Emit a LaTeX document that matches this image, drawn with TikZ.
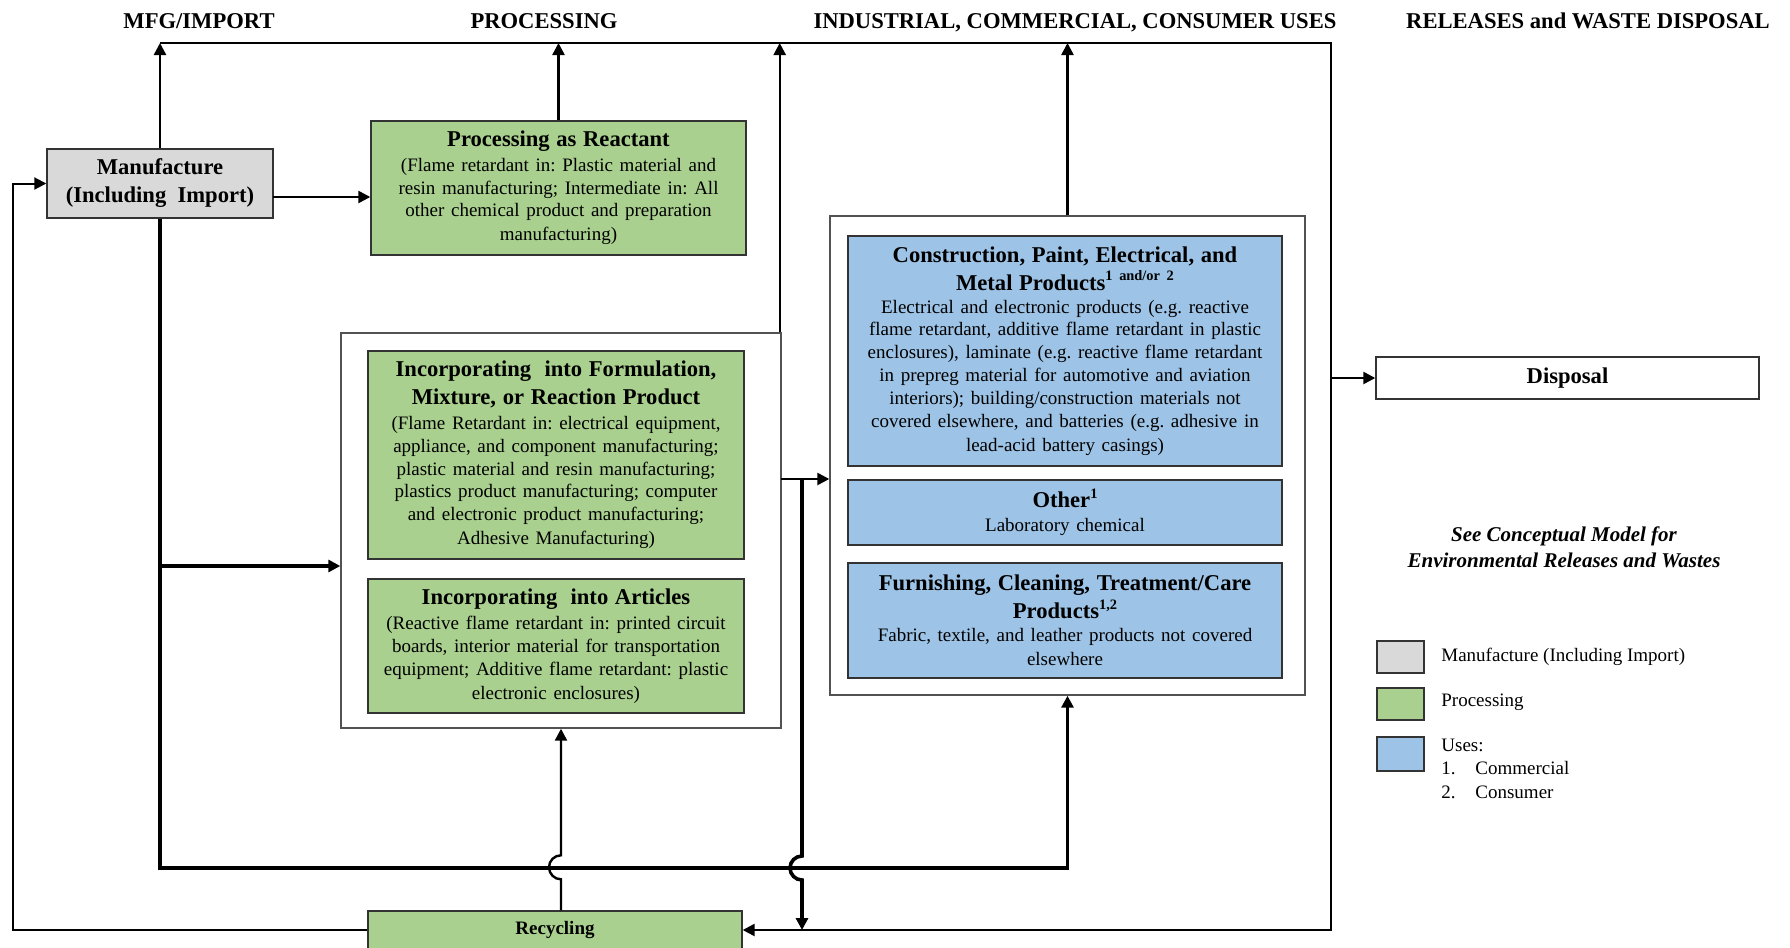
\documentclass[tikz,border=0pt]{standalone}
\usepackage{fontspec}
\setmainfont{Liberation Serif}
\usetikzlibrary{arrows.meta,calc}

\definecolor{mfggray}{HTML}{D9D9D9}
\definecolor{procgreen}{HTML}{A9D08E}
\definecolor{useblue}{HTML}{9DC3E6}
\definecolor{edge}{HTML}{333333}

\setlength{\parindent}{0pt}
\setlength{\parskip}{0pt}
\frenchspacing
\newcommand\boxtitle{\fontsize{11.3}{14}\selectfont\bfseries}
\newcommand\boxbody{\fontsize{9.5}{11.4}\selectfont\mdseries}
\newcommand\supnote[1]{\raisebox{0.42em}{\fontsize{7.2}{7.2}\selectfont #1}}

\begin{document}
\begin{tikzpicture}[x=0.5pt,y=-0.5pt,
  span/.style n args={4}{minimum width={(#3-#1)*0.5pt}, minimum height={(#4-#2)*0.5pt},
    at={({(#1+#3)/2},{(#2+#4)/2})}},
  box/.style={draw=edge, line width=0.7pt, inner sep=0pt, align=center},
  mfgbox/.style={box, fill=mfggray},
  procbox/.style={box, fill=procgreen},
  usebox/.style={box, fill=useblue},
  groupbox/.style={box, fill=white, draw=edge!85},
  tip/.style={-{Triangle[length=6pt,width=6pt]}},
  flow/.style={line width=1.2pt, line join=miter},
  heavy/.style={line width=1.8pt, line join=miter},
  lightflow/.style={line width=1pt, line join=miter},
  header/.style={font=\fontsize{11.3}{14}\selectfont\bfseries, anchor=base},
  legtext/.style={font=\boxbody, anchor=west, inner sep=0pt},
]
\clip (0,0) rectangle (1790,948);
\fill[white] (0,0) rectangle (1790,948);

% column headers
\node[header] (hmfg) at (199,28) {MFG/IMPORT};
\node[header] (hproc) at (544,28) {PROCESSING};
\node[header] (huse) at (1075,28) {INDUSTRIAL, COMMERCIAL, CONSUMER USES};
\node[header] (hrel) at (1588,28) {RELEASES and WASTE DISPOSAL};

% grouping frames
\node[groupbox, span={341}{333}{781}{728}] (incout) {};
\node[groupbox, span={830}{216}{1305}{695}] (useout) {};

% manufacture
\node[mfgbox, font=\boxtitle, span={47}{149}{273}{218}] (mfg) {Manufacture\\(Including\ \ Import)};

% processing
\node[procbox, text width=183pt, span={371}{121}{746}{255}] (par)
  {\boxtitle Processing as Reactant\par\vspace{1pt}
   \boxbody (Flame retardant in: Plastic material and\\
   resin manufacturing; Intermediate in: All\\
   other chemical product and preparation\\
   manufacturing)};

\node[procbox, text width=184pt, span={368}{351}{744}{559}] (form)
  {\boxtitle Incorporating\ \ into Formulation,\\Mixture, or Reaction Product\par\vspace{1pt}
   \boxbody (Flame Retardant in: electrical equipment,\\
   appliance, and component manufacturing;\\
   plastic material and resin manufacturing;\\
   plastics product manufacturing; computer\\
   and electronic product manufacturing;\\
   Adhesive Manufacturing)};

\node[procbox, text width=184pt, span={368}{579}{744}{713}] (art)
  {\boxtitle Incorporating\ \ into Articles\par\vspace{1pt}
   \boxbody (Reactive flame retardant in: printed circuit\\
   boards, interior material for transportation\\
   equipment; Additive flame retardant: plastic\\
   electronic enclosures)};

\node[procbox, font=\fontsize{9.5}{11}\selectfont\bfseries, span={368}{911}{742}{949}] (recyc)
  {Recycling};

% uses
\node[usebox, text width=213pt, span={848}{236}{1282}{466}] (cons)
  {\boxtitle Construction, Paint, Electrical, and\\
   Metal Products\supnote{1 and/or 2}\par
   \boxbody Electrical and electronic products (e.g. reactive\\
   flame retardant, additive flame retardant in plastic\\
   enclosures), laminate (e.g. reactive flame retardant\\
   in prepreg material for automotive and aviation\\
   interiors); building/construction materials not\\
   covered elsewhere, and batteries (e.g. adhesive in\\
   lead-acid battery casings)};

\node[usebox, text width=213pt, span={848}{480}{1282}{545}] (other)
  {\boxtitle Other\supnote{1}\par
   \boxbody Laboratory chemical};

\node[usebox, text width=213pt, span={848}{563}{1282}{678}] (furn)
  {\boxtitle Furnishing, Cleaning, Treatment/Care\\
   Products\supnote{1,2}\par
   \boxbody Fabric, textile, and leather products not covered\\
   elsewhere};

% disposal
\node[box, fill=white, font=\boxtitle, span={1376}{357}{1759}{399}] (disp) {Disposal};

\node[font=\fontsize{10.5}{13}\selectfont\bfseries\itshape, align=center] (see) at (1564,547)
  {See Conceptual Model for\\Environmental Releases and Wastes};

% legend
\node[box, fill=mfggray, span={1377}{641}{1424}{673}] (leg1) {};
\node[box, fill=procgreen, span={1377}{688}{1424}{720}] (leg2) {};
\node[box, fill=useblue, span={1377}{737}{1424}{771}] (leg3) {};
\node[legtext] (legt1) at (1441,657) {Manufacture (Including Import)};
\node[legtext] (legt2) at (1441,702) {Processing};
\node[legtext] (legt3) at (1441,745) {Uses:};
\node[legtext] (legn1) at (1441,768) {1.};
\node[legtext] (legc1) at (1475,768) {Commercial};
\node[legtext] (legn2) at (1441,792) {2.};
\node[legtext] (legc2) at (1475,792) {Consumer};

% routing points
\coordinate (tl) at (160,43);
\coordinate (tr) at (1331,43);
\coordinate (br) at (1331,930);
\coordinate (lb) at (13,930);
\coordinate (busl) at (160,868);
\coordinate (busr) at (1067.5,868);
\coordinate (split) at (160,566);
\coordinate (me) at (273,197);
\coordinate (ie) at (781,479);
\coordinate (drop) at (802,479);
\coordinate (ine) at ([xshift=-1pt]incout.north east);

% flows up to the top line
\draw[flow,tip] (mfg.north) -- (mfg.north |- tl);
\draw[flow,tip] (par.north) -- (par.north |- tl);
\draw[flow,tip] (ine) -- (ine |- tl);
\draw[flow,tip] (useout.north) -- (useout.north |- tl);

% top line, down the right side and back to recycling
\draw[flow,tip] (tl) -- (tr) -- (br) -- (recyc.east);
\draw[flow,tip] (disp.west -| tr) -- (disp.west);

% recycling back to manufacture
\draw[lightflow,tip] (recyc.west) -- (lb) -- (lb |- mfg.west) -- (mfg.west);

% manufacture to processing
\draw[flow,tip] (me) -- (me -| par.west);

% manufacture down and along the bottom bus to the uses
\draw[heavy,tip] (mfg.south) -- (busl) -- (busr) -- (useout.south);
\draw[heavy,tip] (split) -- (split -| incout.west);

% processing to uses and down to recycling
\draw[flow,tip] (ie) -- (ie -| useout.west);
\draw[heavy,tip] (drop) -- ++(0,377) arc[start angle=90,end angle=270,radius=6pt] -- (drop |- br);

% recycling up to processing
\draw[flow,tip] (incout.south |- recyc.north) -- ++(0,-31) arc[start angle=270,end angle=90,radius=6pt] -- (incout.south);
\end{tikzpicture}
\end{document}
